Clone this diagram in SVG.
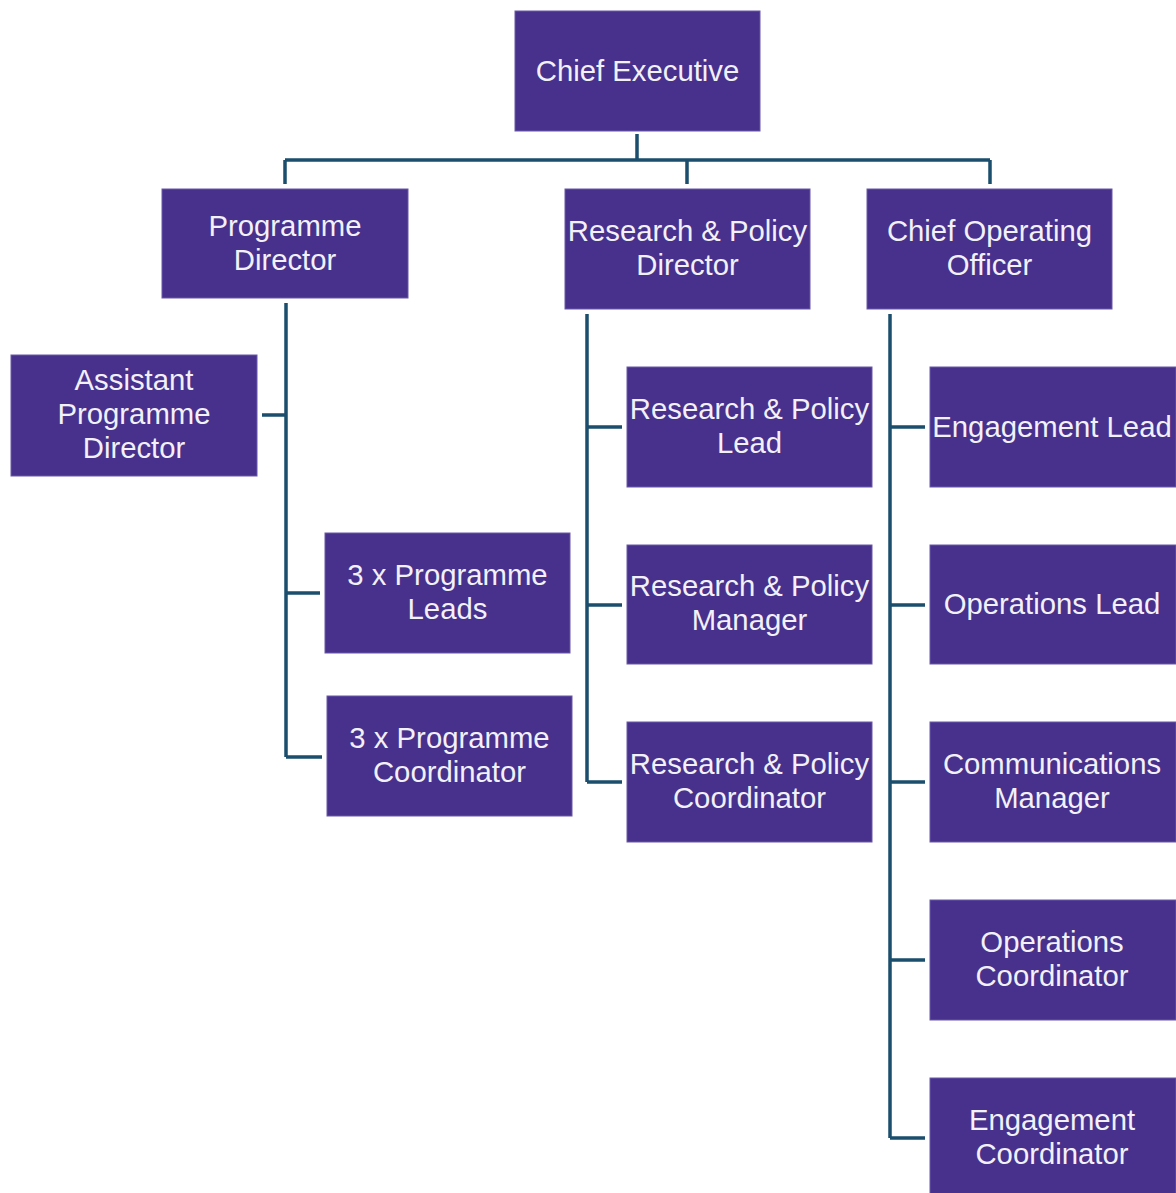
<svg xmlns="http://www.w3.org/2000/svg" width="1176" height="1193" viewBox="0 0 1176 1193">
<style>
.box{fill:#47318c;stroke:#6a58a8;stroke-width:1}
.t{font-family:"Liberation Sans",Arial,sans-serif;font-size:29.3px;fill:#f2f0f8;text-anchor:middle}
.ln{stroke:#1b4d6c;stroke-width:3.5;fill:none}
</style>
<rect width="1176" height="1193" fill="#ffffff"/>
<g id="connectors">
<path class="ln" d="M637 134V160M285 160H990M285 160V184M687 160V184M990 160V184"/>
<path class="ln" d="M286 303V757M262 415H286M286 593H320M286 757H322"/>
<path class="ln" d="M587 314V782M587 427H622M587 605H622M587 782H622"/>
<path class="ln" d="M890 314V1138M890 427H925M890 605H925M890 782H925M890 960H925M890 1138H925"/>
</g>
<g id="chief-executive"><rect class="box" x="515" y="11" width="245" height="120"/><text class="t" x="637.5" y="81">Chief Executive</text></g>
<g id="programme-director"><rect class="box" x="162" y="189" width="246" height="109"/><text class="t" x="285" y="236">Programme</text><text class="t" x="285" y="270">Director</text></g>
<g id="research-policy-director"><rect class="box" x="565" y="189" width="245" height="120"/><text class="t" x="687.5" y="241">Research &amp; Policy</text><text class="t" x="687.5" y="275">Director</text></g>
<g id="chief-operating-officer"><rect class="box" x="867" y="189" width="245" height="120"/><text class="t" x="989.5" y="241">Chief Operating</text><text class="t" x="989.5" y="275">Officer</text></g>
<g id="assistant-programme-director"><rect class="box" x="11" y="355" width="246" height="121"/><text class="t" x="134" y="390">Assistant</text><text class="t" x="134" y="424">Programme</text><text class="t" x="134" y="458">Director</text></g>
<g id="programme-leads"><rect class="box" x="325" y="533" width="245" height="120"/><text class="t" x="447.5" y="585">3 x Programme</text><text class="t" x="447.5" y="619">Leads</text></g>
<g id="programme-coordinator"><rect class="box" x="327" y="696" width="245" height="120"/><text class="t" x="449.5" y="748">3 x Programme</text><text class="t" x="449.5" y="782">Coordinator</text></g>
<g id="research-policy-lead"><rect class="box" x="627" y="367" width="245" height="120"/><text class="t" x="749.5" y="419">Research &amp; Policy</text><text class="t" x="749.5" y="453">Lead</text></g>
<g id="research-policy-manager"><rect class="box" x="627" y="545" width="245" height="119"/><text class="t" x="749.5" y="596">Research &amp; Policy</text><text class="t" x="749.5" y="630">Manager</text></g>
<g id="research-policy-coordinator"><rect class="box" x="627" y="722" width="245" height="120"/><text class="t" x="749.5" y="774">Research &amp; Policy</text><text class="t" x="749.5" y="808">Coordinator</text></g>
<g id="engagement-lead"><rect class="box" x="930" y="367" width="246" height="120"/><text class="t" x="1052" y="437">Engagement Lead</text></g>
<g id="operations-lead"><rect class="box" x="930" y="545" width="246" height="119"/><text class="t" x="1052" y="614">Operations Lead</text></g>
<g id="communications-manager"><rect class="box" x="930" y="722" width="246" height="120"/><text class="t" x="1052" y="774">Communications</text><text class="t" x="1052" y="808">Manager</text></g>
<g id="operations-coordinator"><rect class="box" x="930" y="900" width="246" height="120"/><text class="t" x="1052" y="952">Operations</text><text class="t" x="1052" y="986">Coordinator</text></g>
<g id="engagement-coordinator"><rect class="box" x="930" y="1078" width="246" height="120"/><text class="t" x="1052" y="1130">Engagement</text><text class="t" x="1052" y="1164">Coordinator</text></g>
</svg>
